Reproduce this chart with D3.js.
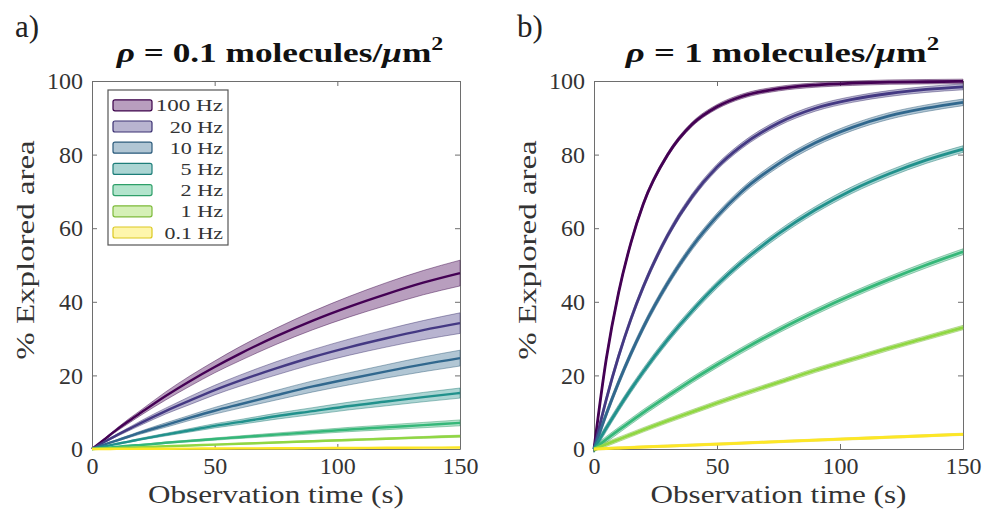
<!DOCTYPE html>
<html>
<head>
<meta charset="utf-8">
<script src="https://cdn.jsdelivr.net/npm/d3@7"></script>
<style>
  body { margin: 0; background: #fff; }
  svg { display: block; }
  text { font-family: "Liberation Serif", "Times New Roman", Tinos, "DejaVu Serif", serif !important; }
</style>
</head>
<body>
<svg id="fig" width="985" height="512"></svg>
<script>
// Observation times (s) at which the explored area was sampled
const times = [0, 5, 10, 15, 20, 30, 40, 50, 60, 75, 90, 105, 120, 135, 150];
const freqLabels = ["100 Hz", "20 Hz", "10 Hz", "5 Hz", "2 Hz", "1 Hz", "0.1 Hz"];
const xTicks = [0, 50, 100, 150];
const yTicks = [0, 20, 40, 60, 80, 100];

// rho = 0.1 molecules/um^2 : mean % explored area per frame rate
const low100 = [0, 2.6, 5.2, 7.6, 9.9, 14.4, 18.5, 22.3, 25.8, 30.6, 34.9, 38.7, 42.1, 45.2, 47.8];
const low20  = [0, 1.9, 3.7, 5.4, 7.1, 10.3, 13.2, 16.0, 18.5, 21.9, 25.0, 27.7, 30.1, 32.3, 34.2];
const low10  = [0, 1.2, 2.3, 3.4, 4.5, 6.5, 8.5, 10.4, 12.1, 14.6, 17.0, 19.1, 21.1, 23.0, 24.7];
const low5   = [0, 0.7, 1.4, 2.0, 2.7, 3.9, 5.1, 6.3, 7.3, 8.9, 10.3, 11.7, 12.9, 14.1, 15.2];
const low2   = [0, 0.3, 0.6, 0.9, 1.1, 1.7, 2.2, 2.7, 3.2, 3.9, 4.6, 5.3, 5.9, 6.5, 7.1];
const low1   = [0, 0.12, 0.25, 0.37, 0.49, 0.73, 0.96, 1.19, 1.42, 1.77, 2.12, 2.46, 2.8, 3.15, 3.5];
const low01  = [0, 0.01, 0.03, 0.04, 0.05, 0.08, 0.11, 0.13, 0.16, 0.2, 0.24, 0.28, 0.32, 0.36, 0.4];

// rho = 0.1 : standard deviation of the explored area
const lowSd100 = [0, 0.2, 0.4, 0.6, 0.7, 1.1, 1.4, 1.6, 1.9, 2.2, 2.5, 2.8, 3.1, 3.3, 3.5];
const lowSd20  = [0, 0.15, 0.3, 0.45, 0.6, 0.8, 1.1, 1.3, 1.5, 1.8, 2.0, 2.2, 2.4, 2.6, 2.8];
const lowSd10  = [0, 0.1, 0.2, 0.3, 0.4, 0.6, 0.7, 0.9, 1.05, 1.3, 1.5, 1.65, 1.8, 2.0, 2.15];
const lowSd5   = [0, 0.06, 0.12, 0.18, 0.24, 0.35, 0.46, 0.57, 0.66, 0.8, 0.93, 1.05, 1.16, 1.27, 1.37];
const lowSd2   = [0, 0.03, 0.07, 0.1, 0.12, 0.19, 0.24, 0.3, 0.35, 0.43, 0.5, 0.58, 0.65, 0.72, 0.8];
const lowSd1   = [0, 0.01, 0.02, 0.03, 0.04, 0.06, 0.08, 0.1, 0.11, 0.14, 0.17, 0.2, 0.22, 0.25, 0.28];
const lowSd01  = [0, 0.01, 0.01, 0.01, 0.01, 0.02, 0.02, 0.02, 0.03, 0.03, 0.03, 0.04, 0.04, 0.05, 0.05];

// rho = 1 molecules/um^2 : mean % explored area per frame rate
const high100 = [0, 24.5, 42.5, 56.0, 66.5, 80.0, 88.3, 93.0, 95.8, 97.9, 98.9, 99.4, 99.7, 99.8, 99.9];
const high20  = [0, 13.5, 25.2, 35.3, 44.0, 58.1, 68.7, 76.6, 82.4, 88.6, 92.6, 95.0, 96.6, 97.7, 98.4];
const high10  = [0, 9.5, 18.1, 25.9, 33.0, 45.1, 55.1, 63.2, 69.9, 77.5, 83.2, 87.4, 90.5, 92.6, 94.2];
const high5   = [0, 5.7, 11.1, 16.2, 21.0, 29.8, 37.6, 44.6, 50.7, 58.5, 65.0, 70.4, 74.8, 78.5, 81.5];
const high2   = [0, 2.6, 5.1, 7.5, 9.9, 14.4, 18.8, 22.9, 26.8, 32.3, 37.3, 41.9, 46.1, 50.0, 53.6];
const high1   = [0, 1.3, 2.6, 3.9, 5.2, 7.7, 10.1, 12.5, 14.8, 18.1, 21.4, 24.4, 27.4, 30.2, 33.0];
const high01  = [0, 0.14, 0.27, 0.4, 0.54, 0.8, 1.07, 1.33, 1.6, 2.0, 2.4, 2.8, 3.2, 3.6, 4.0];

// rho = 1 : standard deviation per frame rate (nearly constant over time)
const highSd = [0.6, 0.8, 0.9, 0.9, 0.8, 0.6, 0.3];

const panels = [
  {
    letter: "a)", density: "0.1",
    means: [low100, low20, low10, low5, low2, low1, low01],
    sds: [lowSd100, lowSd20, lowSd10, lowSd5, lowSd2, lowSd1, lowSd01],
    box: { left: 92, right: 460, top: 81, bottom: 449 },
    titleW: 328, legend: true, lineW: 2.4
  },
  {
    letter: "b)", density: "1",
    means: [high100, high20, high10, high5, high2, high1, high01],
    sds: highSd.map(s => times.map(() => s)),
    box: { left: 594, right: 963, top: 81, bottom: 449 },
    titleW: 315, legend: false, lineW: 2.8
  }
];

const colors = freqLabels.map((_, i) => d3.interpolateViridis(i / 6));
const svg = d3.select("#fig");

// pick a tick font size so that "100" is about 37px wide in whichever serif is available
const probe = svg.append("text").attr("font-size", 24).text("100");
const tickFs = Math.min(24, 24 * 37 / probe.node().getBBox().width);
probe.remove();

// horizontally stretch a text group so its width equals target
function fit(g, cx, cy, target, rotate) {
  const w = g.node().getBBox().width;
  const s = target / w;
  g.attr("transform", `translate(${cx},${cy})${rotate ? " rotate(-90)" : ""} scale(${s},1)`);
}

panels.forEach(p => {
  const b = p.box;
  const x = d3.scaleLinear().domain([0, 150]).range([b.left, b.right]);
  const y = d3.scaleLinear().domain([0, 100]).range([b.bottom, b.top]);
  const g = svg.append("g");

  // axes box with inward ticks on all four sides
  const axisCol = "#6e6e6e";
  const styleTicks = a => {
    a.select(".domain").attr("stroke", axisCol);
    a.selectAll(".tick line").attr("stroke", axisCol);
    a.selectAll(".tick text").attr("font-size", tickFs).attr("fill", "#333");
  };
  g.append("g").attr("transform", `translate(0,${b.bottom})`)
    .call(d3.axisBottom(x).tickValues(xTicks).tickSizeInner(-5).tickSizeOuter(0).tickPadding(8))
    .call(styleTicks);
  g.append("g").attr("transform", `translate(${b.left},0)`)
    .call(d3.axisLeft(y).tickValues(yTicks).tickSizeInner(-5).tickSizeOuter(0).tickPadding(9))
    .call(styleTicks);
  g.append("g").attr("transform", `translate(0,${b.top})`)
    .call(d3.axisTop(x).tickValues(xTicks).tickSizeInner(-5).tickSizeOuter(0).tickFormat(""))
    .call(styleTicks);
  g.append("g").attr("transform", `translate(${b.right},0)`)
    .call(d3.axisRight(y).tickValues(yTicks).tickSizeInner(-5).tickSizeOuter(0).tickFormat(""))
    .call(styleTicks);

  // shaded +/- sd bands, then the mean curves
  const area = d3.area().curve(d3.curveMonotoneX)
    .x(d => x(d.t)).y0(d => y(d.lo)).y1(d => y(d.hi));
  const line = d3.line().curve(d3.curveMonotoneX).x(d => x(d.t)).y(d => y(d.v));
  const plot = g.append("g");
  p.means.forEach((m, i) => {
    const pts = times.map((t, k) => ({ t, v: m[k], lo: m[k] - p.sds[i][k], hi: m[k] + p.sds[i][k] }));
    const col = colors[i];
    plot.append("path").datum(pts).attr("d", area)
      .attr("fill", col).attr("fill-opacity", 0.38)
      .attr("stroke", d3.color(col).darker(0.6)).attr("stroke-opacity", 0.55).attr("stroke-width", 0.8);
  });
  p.means.forEach((m, i) => {
    const pts = times.map((t, k) => ({ t, v: m[k] }));
    plot.append("path").datum(pts).attr("d", line)
      .attr("fill", "none").attr("stroke", colors[i]).attr("stroke-width", p.lineW);
  });

  // legend
  if (p.legend) {
    const lg = g.append("g");
    lg.append("rect").attr("x", 108).attr("y", 90).attr("width", 120).attr("height", 155)
      .attr("fill", "#fff").attr("stroke", "#555").attr("stroke-width", 1.2);
    freqLabels.forEach((lab, i) => {
      const cy = 105.3 + i * 21.2;
      lg.append("rect").attr("x", 113).attr("y", cy - 5.5).attr("width", 39).attr("height", 11)
        .attr("rx", 2).attr("fill", colors[i]).attr("fill-opacity", 0.38)
        .attr("stroke", d3.color(colors[i]).darker(0.4)).attr("stroke-width", 1.2);
      const tg = lg.append("g");
      tg.append("text").attr("text-anchor", "end").attr("font-size", 17).attr("fill", "#333").text(lab);
      const w = tg.node().getBBox().width;
      const target = { "100 Hz": 68, "20 Hz": 54, "10 Hz": 54, "5 Hz": 43, "2 Hz": 43, "1 Hz": 43, "0.1 Hz": 59 }[lab];
      tg.attr("transform", `translate(223,${cy + 6}) scale(${target / w},1)`);
    });
  }

  // title
  const cx = (b.left + b.right) / 2;
  const tg = g.append("g");
  const tt = tg.append("text").attr("text-anchor", "middle").attr("font-size", 28)
    .attr("font-weight", "bold").attr("fill", "#111");
  tt.append("tspan").attr("font-style", "italic").text("ρ");
  tt.append("tspan").text(` = ${p.density} molecules/`);
  tt.append("tspan").attr("font-style", "italic").text("μ");
  tt.append("tspan").text("m");
  tt.append("tspan").attr("dy", -12).attr("font-size", 19).text("2");
  fit(tg, cx + 4, 62, p.titleW, false);

  // panel letter
  g.append("text").attr("x", b.left - 77).attr("y", 37).attr("font-size", 31)
    .attr("fill", "#222").text(p.letter);

  // axis titles
  const xl = g.append("g");
  xl.append("text").attr("text-anchor", "middle").attr("font-size", 26).attr("fill", "#333")
    .text("Observation time (s)");
  fit(xl, cx, 503, 256, false);

  const yl = g.append("g");
  yl.append("text").attr("text-anchor", "middle").attr("font-size", 26).attr("fill", "#333")
    .text("% Explored area");
  fit(yl, b.left - 58, 250, 220, true);
});
</script>
</body>
</html>
